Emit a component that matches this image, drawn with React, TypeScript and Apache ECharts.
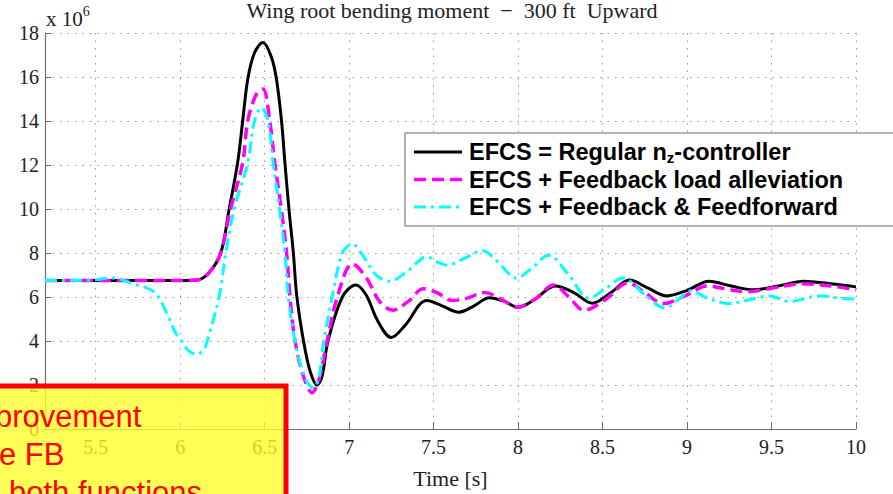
import React, { useEffect, useRef } from "react";
import * as echarts from "echarts";

const chartTitle = "Wing root bending moment  \u2212  300 ft  Upward";
const xAxisName = "Time [s]";
const xTicks = [5.5, 6, 6.5, 7, 7.5, 8, 8.5, 9, 9.5, 10];
const yTicks = [0, 2, 4, 6, 8, 10, 12, 14, 16, 18];
const seriesNames = [
  "EFCS = Regular nz-controller",
  "EFCS + Feedback load alleviation",
  "EFCS + Feedback & Feedforward",
];

const regular: [number, number][] = [
  [5.2, 6.75], [6.0, 6.75], [6.1, 6.77], [6.17, 7.1], [6.24, 8.0], [6.29, 10.0],
  [6.34, 12.1], [6.37, 14.0], [6.4, 15.9], [6.44, 17.1], [6.49, 17.57], [6.54, 16.9],
  [6.57, 15.9], [6.6, 14.0], [6.62, 12.1], [6.645, 9.9], [6.67, 8.0], [6.69, 6.06],
  [6.73, 4.0], [6.77, 2.6], [6.81, 2.0], [6.84, 2.4], [6.875, 4.0], [6.96, 6.0],
  [7.04, 6.55], [7.1, 6.1], [7.17, 4.9], [7.25, 4.16], [7.33, 4.7], [7.46, 5.84],
  [7.55, 5.6], [7.65, 5.31], [7.74, 5.6], [7.83, 5.97], [7.92, 5.8], [8.0, 5.53],
  [8.1, 5.9], [8.22, 6.5], [8.33, 6.2], [8.44, 5.72], [8.55, 6.2], [8.66, 6.77],
  [8.77, 6.4], [8.88, 6.05], [9.0, 6.3], [9.13, 6.72], [9.26, 6.5], [9.39, 6.33],
  [9.54, 6.5], [9.69, 6.72], [9.85, 6.6], [10.0, 6.46],
];

const feedback: [number, number][] = [
  [5.2, 6.75], [6.0, 6.75], [6.1, 6.77], [6.17, 7.1], [6.24, 8.0], [6.295, 9.9],
  [6.37, 12.1], [6.4, 14.0], [6.45, 15.2], [6.49, 15.45], [6.53, 14.0], [6.56, 12.1],
  [6.6, 9.9], [6.63, 8.0], [6.65, 6.0], [6.68, 4.0], [6.73, 2.4], [6.78, 1.65],
  [6.82, 2.2], [6.87, 4.0], [6.93, 6.0], [7.02, 7.5], [7.1, 6.9], [7.18, 5.8],
  [7.26, 5.4], [7.35, 5.8], [7.44, 6.37], [7.52, 6.2], [7.61, 5.84], [7.7, 5.95],
  [7.8, 6.2], [7.9, 5.9], [7.99, 5.53], [8.1, 5.9], [8.21, 6.55], [8.3, 6.0],
  [8.39, 5.4], [8.52, 5.9], [8.65, 6.64], [8.75, 6.2], [8.86, 5.7], [9.0, 6.1],
  [9.12, 6.5], [9.24, 6.35], [9.36, 6.24], [9.5, 6.4], [9.69, 6.6], [9.85, 6.5],
  [10.0, 6.33],
];

const feedforward: [number, number][] = [
  [5.2, 6.75], [5.45, 6.76], [5.6, 6.86], [5.72, 6.6], [5.85, 6.2], [5.93, 5.1],
  [5.97, 4.4], [6.0, 4.1], [6.05, 3.55], [6.1, 3.4], [6.14, 3.6], [6.16, 4.0],
  [6.23, 6.0], [6.27, 8.0], [6.32, 10.0], [6.4, 12.1], [6.44, 14.0], [6.48, 14.6],
  [6.52, 14.0], [6.55, 12.1], [6.59, 9.9], [6.62, 8.0], [6.64, 6.0], [6.68, 4.0],
  [6.74, 2.3], [6.79, 1.86], [6.82, 2.3], [6.85, 4.0], [6.9, 6.0], [6.96, 8.0],
  [7.02, 8.4], [7.08, 7.9], [7.16, 7.0], [7.24, 6.72], [7.35, 7.2], [7.46, 7.83],
  [7.52, 7.6], [7.58, 7.45], [7.68, 7.75], [7.79, 8.1], [7.88, 7.6], [7.99, 6.86],
  [8.08, 7.3], [8.18, 7.9], [8.3, 7.0], [8.42, 5.95], [8.52, 6.4], [8.62, 6.86],
  [8.75, 6.1], [8.87, 5.5], [8.95, 5.9], [9.02, 6.28], [9.12, 5.95], [9.25, 5.7],
  [9.38, 5.9], [9.49, 6.05], [9.6, 5.8], [9.79, 6.05], [9.9, 5.95], [10.0, 5.9],
];

const noteLines = ["provement", "e FB", "both functions"];

const SERIF = "'Liberation Serif', 'Times New Roman', serif";
const SANS = "'Liberation Sans', Arial, sans-serif";

export default function App() {
  const ref = useRef<HTMLDivElement>(null);
  useEffect(() => {
    if (!ref.current) return;
    const chart = echarts.init(ref.current, undefined, { renderer: "svg" });
    const colors = ["#000000", "#ff00ff", "#00ffff"];
    const dashes: any[] = ["solid", [12, 6], [12, 5, 3, 5]];
    const widths = [3, 3.5, 3];
    const datasets = [regular, feedback, feedforward];

    const legendX = 405, legendY = 133, rowH = 27.5;
    const legendItems: any[] = [
      {
        type: "rect",
        shape: { x: legendX, y: legendY, width: 495, height: 93 },
        style: { fill: "#ffffff", stroke: "#9a9a9a", lineWidth: 1.5 },
        z: 100,
      },
    ];
    seriesNames.forEach((name, i) => {
      const cy = legendY + 19 + i * rowH;
      legendItems.push({
        type: "line",
        shape: { x1: 414, y1: cy, x2: 462, y2: cy },
        style: {
          stroke: colors[i],
          lineWidth: widths[i],
          lineDash: Array.isArray(dashes[i]) ? dashes[i] : null,
        },
        z: 101,
      });
      const txt =
        i === 0
          ? "{b|EFCS = Regular n}{s|z}{b|-controller}"
          : "{b|" + name + "}";
      legendItems.push({
        type: "text",
        x: 469,
        y: cy,
        style: {
          text: txt,
          verticalAlign: "middle",
          rich: {
            b: { fontFamily: SANS, fontWeight: "bold", fontSize: 23.5, fill: "#000", lineHeight: 26 },
            s: { fontFamily: SANS, fontWeight: "bold", fontSize: 15, fill: "#000", lineHeight: 15, verticalAlign: "bottom" },
          },
        },
        z: 101,
      });
    });

    const option: any = {
      animation: false,
      grid: { left: 45, right: 37, top: 33, bottom: 54 },
      xAxis: {
        type: "value",
        min: 5.2,
        max: 10,
        name: xAxisName,
        nameLocation: "middle",
        nameGap: 38,
        nameTextStyle: { fontFamily: SERIF, fontSize: 22, color: "#222" },
        axisLine: { show: true, onZero: false, lineStyle: { color: "#6e6e6e", width: 1.2 } },
        axisTick: { show: true, inside: true, length: 7, customValues: xTicks, lineStyle: { color: "#6e6e6e" } },
        axisLabel: { customValues: xTicks, fontFamily: SERIF, fontSize: 20, color: "#222", margin: 8 },
        splitLine: { show: true, lineStyle: { type: [1.5, 6], color: "#9a9a9a", width: 1 } },
      },
      yAxis: {
        type: "value",
        min: 0,
        max: 18,
        interval: 2,
        axisLine: { show: true, onZero: false, lineStyle: { color: "#6e6e6e", width: 1.2 } },
        axisTick: { show: true, inside: true, length: 6, customValues: yTicks, lineStyle: { color: "#6e6e6e" } },
        axisLabel: { customValues: yTicks, fontFamily: SERIF, fontSize: 20, color: "#222", margin: 6 },
        splitLine: { show: true, lineStyle: { type: [1.5, 6], color: "#9a9a9a", width: 1 } },
      },
      series: datasets.map((d, i) => ({
        name: seriesNames[i],
        type: "line",
        data: d,
        showSymbol: false,
        smooth: 0.35,
        z: 2 + i,
        lineStyle: { color: colors[i], width: widths[i], type: dashes[i] },
      })),
      graphic: [
        {
          type: "text",
          x: 452,
          y: 10,
          style: {
            text: chartTitle,
            align: "center",
            verticalAlign: "middle",
            fontFamily: SERIF,
            fontSize: 22,
            fill: "#222",
          },
        },
        {
          type: "text",
          x: 46,
          y: 4,
          style: {
            text: "{a|x 10}{b|6}",
            rich: {
              a: { fontFamily: SERIF, fontSize: 21, fill: "#222", lineHeight: 25, verticalAlign: "bottom" },
              b: { fontFamily: SERIF, fontSize: 14, fill: "#222", lineHeight: 14, verticalAlign: "top" },
            },
          },
        },
        ...legendItems,
        {
          type: "rect",
          shape: { x: -4, y: 386, width: 290, height: 130 },
          style: { fill: "rgba(255,255,40,0.78)", stroke: "#ff0000", lineWidth: 5 },
          z: 200,
        },
        ...noteLines.map((t, i) => ({
          type: "text",
          x: [-5, -1, 9][i],
          y: [416, 454, 492][i],
          style: {
            text: t,
            fontFamily: SANS,
            fontSize: 31,
            fill: "#ff0000",
            verticalAlign: "middle",
          },
          z: 201,
        })),
      ],
    };
    chart.setOption(option);
    return () => chart.dispose();
  }, []);
  return (
    <div
      ref={ref}
      style={{ position: "fixed", left: 0, top: 0, width: 893, height: 494, background: "#fff" }}
    />
  );
}
